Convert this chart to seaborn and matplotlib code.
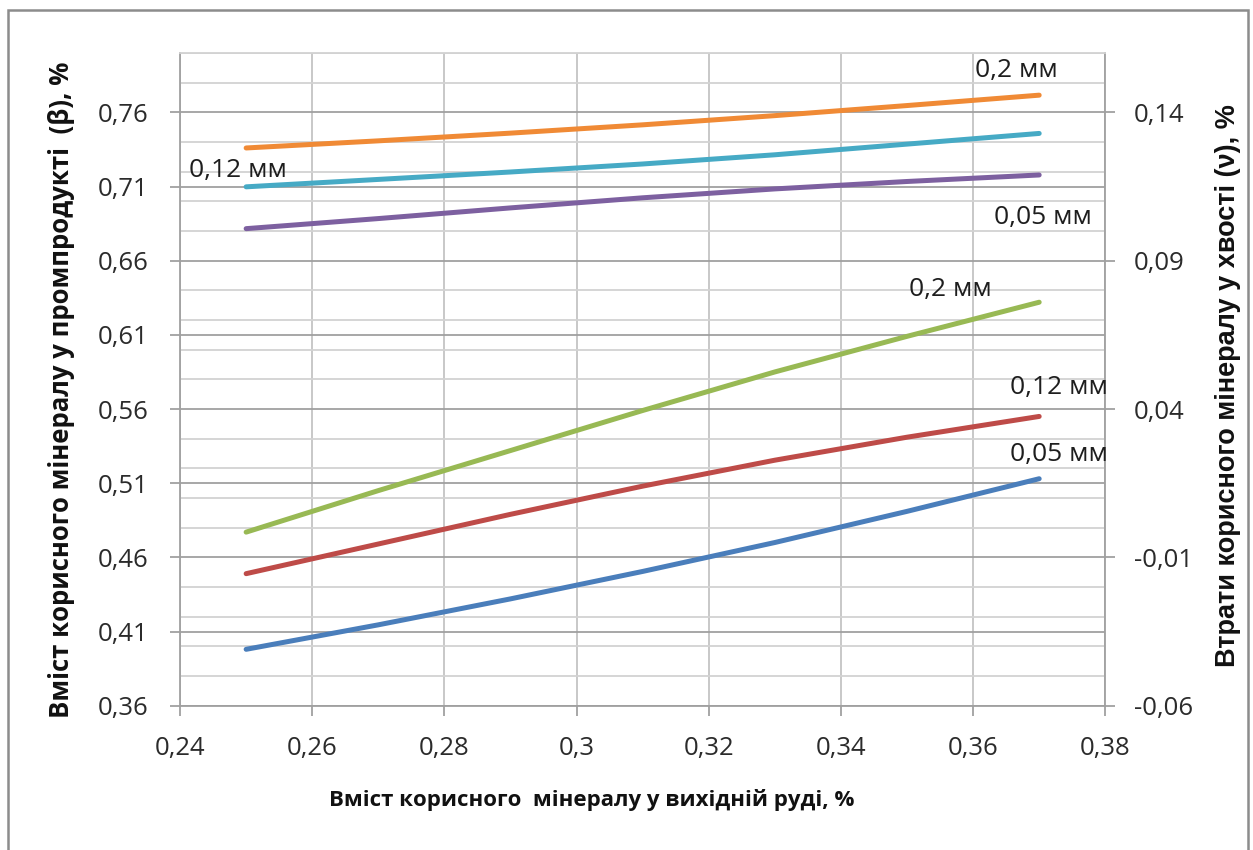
import matplotlib
matplotlib.use('Agg')
import matplotlib.pyplot as plt
import matplotlib.ticker as mticker
from matplotlib.patches import Rectangle
import numpy as np
import seaborn as sns

# вміст корисного мінералу у вихідній руді, %
ore = [0.25, 0.27, 0.29, 0.31, 0.33, 0.35, 0.37]

# промпродукт (beta), ліва вісь
beta_005 = [0.398, 0.4145, 0.432, 0.4505, 0.470, 0.491, 0.513]
beta_012 = [0.449, 0.469, 0.489, 0.508, 0.5255, 0.541, 0.555]
beta_02 = [0.477, 0.505, 0.532, 0.559, 0.585, 0.609, 0.632]

# втрати у хвостах (nu), права вісь
nu_005 = [0.1008, 0.1042, 0.1078, 0.1112, 0.1142, 0.1167, 0.1189]
nu_012 = [0.1149, 0.1174, 0.1199, 0.1226, 0.1257, 0.1293, 0.1329]
nu_02 = [0.1280, 0.1304, 0.1330, 0.1358, 0.1389, 0.1423, 0.1458]

left_ticks = [0.36, 0.41, 0.46, 0.51, 0.56, 0.61, 0.66, 0.71, 0.76]
right_ticks = [-0.06, -0.01, 0.04, 0.09, 0.14]
x_ticks = [0.24, 0.26, 0.28, 0.30, 0.32, 0.34, 0.36, 0.38]

sns.set_style("white")
plt.rcParams['font.family'] = ['Open Sans', 'DejaVu Sans']

fig = plt.figure(figsize=(12.53, 8.5), dpi=100)
ax = fig.add_axes([0.1437, 0.1698, 0.7384, 0.7678])
ax2 = ax.twinx()

ax.set_xlim(0.24, 0.38)
ax.set_ylim(0.36, 0.80)
ax2.set_ylim(-0.06, 0.16)

comma = lambda fmt: mticker.FuncFormatter(lambda v, p: (fmt % v).replace('.', ','))

ax.xaxis.set_major_locator(mticker.FixedLocator(x_ticks))
ax.xaxis.set_major_formatter(comma('%g'))
ax.yaxis.set_major_locator(mticker.FixedLocator(left_ticks))
ax.yaxis.set_major_formatter(comma('%.2f'))
# minor lines every 0.01 of the right axis
ax.yaxis.set_minor_locator(mticker.FixedLocator(np.arange(0.36, 0.8001, 0.02)))
ax2.yaxis.set_major_locator(mticker.FixedLocator(right_ticks))
ax2.yaxis.set_major_formatter(comma('%.2f'))

ax.grid(True, which='major', axis='y', color='#a0a0a0', lw=1.3)
ax.grid(True, which='minor', axis='y', color='#d2d2d2', lw=1.3)
ax.grid(True, which='major', axis='x', color='#c4c4c4', lw=1.3)
ax.set_axisbelow(True)

for s in ['left', 'bottom', 'right', 'top']:
    ax.spines[s].set_color('#a0a0a0')
    ax.spines[s].set_linewidth(1.3)
    ax2.spines[s].set_visible(False)
ax.spines['top'].set_color('#d2d2d2')

tick_col = '#2b2b2b'
ax.tick_params(axis='y', which='major', direction='out', length=7.5, width=1.3,
               color='#a0a0a0', left=True, pad=15, labelsize=18.5, labelcolor=tick_col)
ax.tick_params(axis='y', which='minor', length=0)
ax.tick_params(axis='x', direction='out', length=7.5, width=1.3, color='#a0a0a0',
               bottom=True, pad=14, labelsize=18.5, labelcolor=tick_col)
ax2.tick_params(axis='y', direction='out', length=7.5, width=1.3, color='#a0a0a0',
                right=True, pad=13, labelsize=18.5, labelcolor=tick_col)

lw = 3.6
for vals, col in [(beta_005, '#4A7EBB'), (beta_012, '#BE4B48'), (beta_02, '#98B954')]:
    sns.lineplot(x=ore, y=vals, ax=ax, color=col, lw=lw, solid_capstyle='round')
for vals, col in [(nu_005, '#7D60A0'), (nu_012, '#46AAC5'), (nu_02, '#F08A35')]:
    sns.lineplot(x=ore, y=vals, ax=ax2, color=col, lw=lw, solid_capstyle='round')

lab = dict(fontsize=19, color='#1e1e1e', ha='center', va='center')
ax2.text(0.3665, 0.154, '0,2 мм', **lab)
ax2.text(0.2488, 0.1203, '0,12 мм', **lab)
ax2.text(0.3705, 0.1046, '0,05 мм', **lab)
ax.text(0.3565, 0.6406, '0,2 мм', **lab)
ax.text(0.373, 0.5743, '0,12 мм', **lab)
ax.text(0.373, 0.5292, '0,05 мм', **lab)

fig.text(592 / 1253, 1 - 800 / 850, 'Вміст корисного  мінералу у вихідній руді, %',
         fontsize=16, fontweight='bold', ha='center', va='center', color='#111111')
fig.text(62 / 1253, 1 - 390 / 850, 'Вміст корисного мінералу у промпродукті  (β), %',
         fontsize=18.5, fontweight='bold', ha='center', va='center', rotation=90, color='#111111')
fig.text(1228 / 1253, 1 - 386 / 850, 'Втрати корисного мінералу у хвості (ν), %',
         fontsize=19.5, fontweight='bold', ha='center', va='center', rotation=90,
         family=['Liberation Sans', 'DejaVu Sans'], color='#111111')

fig.patches.append(Rectangle((8 / 1253, -0.1), 1240 / 1253, 1.1 - 10 / 850,
                             transform=fig.transFigure, fill=False,
                             edgecolor='#8c8c8c', lw=1.8))

ax.set_xlabel('')
ax.set_ylabel('')
ax2.set_ylabel('')

fig.savefig('out.png', dpi=100)
